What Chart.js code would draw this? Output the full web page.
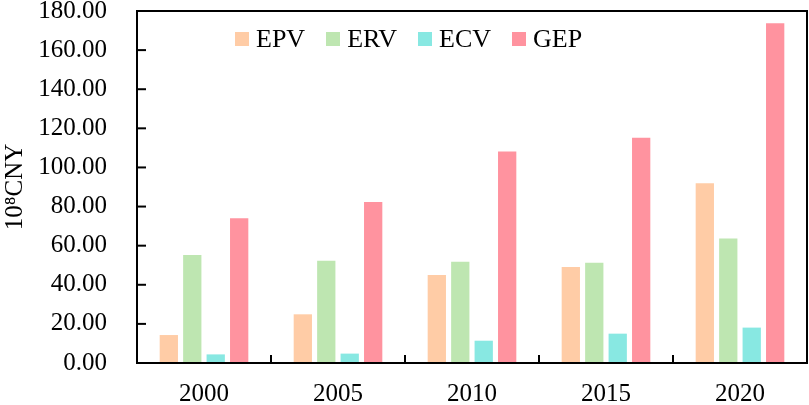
<!DOCTYPE html>
<html>
<head>
<meta charset="utf-8">
<script src="https://cdn.jsdelivr.net/npm/chart.js@4.4.1/dist/chart.umd.min.js"></script>
<style>
  html, body { margin: 0; padding: 0; background: #fff; }
  #wrap { position: relative; width: 809px; height: 405px; }
  canvas { display: block; }
  #legend { position: absolute; left: 235px; top: 24px; display: flex; align-items: center; gap: 21px;
            font-family: "Liberation Serif", "Times New Roman", serif; font-size: 26px; color: #000; line-height: 30px; }
  .item { display: flex; align-items: center; gap: 7px; }
  .box { width: 14px; height: 14px; display: inline-block; }
</style>
</head>
<body>
<div id="wrap">
  <canvas id="c" width="809" height="405"></canvas>
  <div id="legend"></div>
</div>
<script>
const categories = ["2000", "2005", "2010", "2015", "2020"];
const seriesNames = ["EPV", "ERV", "ECV", "GEP"];
const EPV = [14.3, 24.9, 45.0, 49.1, 91.9];
const ERV = [55.2, 52.3, 51.8, 51.3, 63.7];
const ECV = [4.4, 4.8, 11.4, 15.0, 18.1];
const GEP = [74.0, 82.3, 108.2, 115.2, 173.7];
const colors = ["#FFCCA6", "#BEE6B1", "#88E8E2", "#FF939F"];
const yTitle = "10\u2078CNY";

const FONT = '"Liberation Serif", "Times New Roman", serif';

const framePlugin = {
  id: 'frame',
  afterDraw(chart) {
    const { ctx, chartArea: a, scales } = chart;
    ctx.save();
    ctx.strokeStyle = '#000';
    ctx.lineWidth = 2;
    ctx.strokeRect(a.left, a.top, a.right - a.left, a.bottom - a.top);
    const y = scales.y;
    y.ticks.forEach(t => {
      const py = y.getPixelForValue(t.value);
      ctx.beginPath();
      ctx.moveTo(a.left, py);
      ctx.lineTo(a.left + 9, py);
      ctx.stroke();
    });
    const x = scales.x;
    for (let i = 1; i < categories.length; i++) {
      const px = (x.getPixelForValue(i - 1) + x.getPixelForValue(i)) / 2;
      ctx.beginPath();
      ctx.moveTo(px, a.bottom);
      ctx.lineTo(px, a.bottom - 8);
      ctx.stroke();
    }
    ctx.restore();
  }
};

const data = {
  labels: categories,
  datasets: [EPV, ERV, ECV, GEP].map((vals, i) => ({
    label: seriesNames[i],
    data: vals,
    backgroundColor: colors[i],
    borderWidth: 0,
    categoryPercentage: 0.7,
    barPercentage: 0.78
  }))
};

new Chart(document.getElementById('c'), {
  type: 'bar',
  data,
  options: {
    responsive: false,
    animation: false,
    layout: { padding: { top: 0, right: 2, left: 0, bottom: 0 } },
    plugins: { legend: { display: false }, tooltip: { enabled: false } },
    scales: {
      x: {
        grid: { display: false, drawTicks: false },
        border: { display: false },
        ticks: { color: '#000', font: { family: FONT, size: 25 }, padding: 16 },
        afterFit(s) { s.height = 42; }
      },
      y: {
        min: 0, max: 180,
        grid: { display: false, drawOnChartArea: false, drawTicks: true, tickLength: 30, tickColor: 'rgba(0,0,0,0)' },
        border: { display: false },
        ticks: { stepSize: 20, color: '#000', font: { family: FONT, size: 25, lineHeight: 0.88 }, padding: 0,
                 callback: v => Number(v).toFixed(2) },
        title: { display: true, text: yTitle, color: '#000', font: { family: FONT, size: 25 }, padding: 0 },
        afterFit(s) { s.width = 137; }
      }
    }
  },
  plugins: [framePlugin]
});

const lg = document.getElementById('legend');
seriesNames.forEach((n, i) => {
  const it = document.createElement('div');
  it.className = 'item';
  const b = document.createElement('span');
  b.className = 'box';
  b.style.background = colors[i];
  const t = document.createElement('span');
  t.textContent = n;
  it.appendChild(b); it.appendChild(t);
  lg.appendChild(it);
});
</script>
</body>
</html>
